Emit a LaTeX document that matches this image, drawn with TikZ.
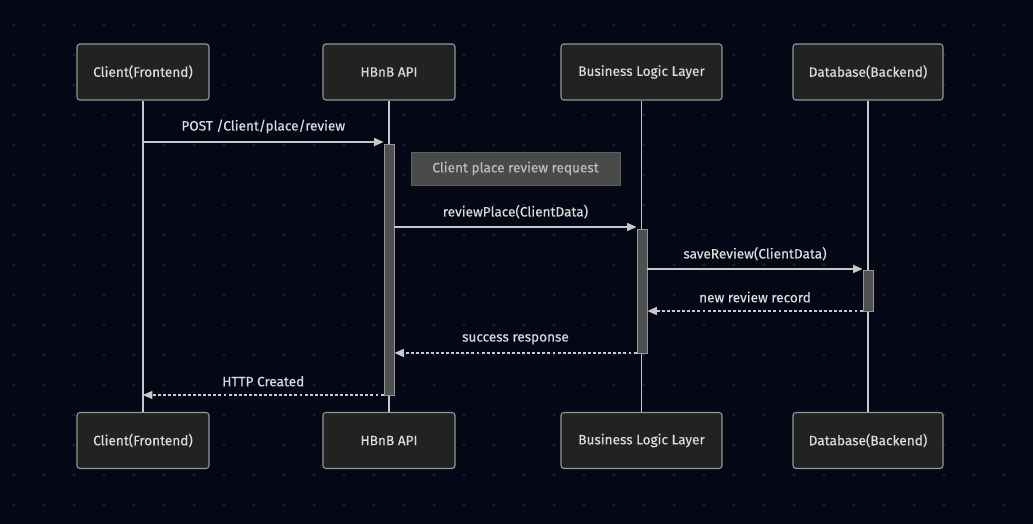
\documentclass[tikz,border=0pt]{standalone}
\usepackage{fontspec}
\setmainfont{Fira Sans}[UprightFeatures={FakeBold=0.25}]
\usetikzlibrary{arrows.meta}
\definecolor{bg}{RGB}{3,7,22}
\definecolor{griddot}{RGB}{30,34,46}
\definecolor{boxfill}{RGB}{34,35,33}
\definecolor{boxline}{RGB}{150,150,150}
\definecolor{txt}{RGB}{220,220,220}
\definecolor{wire}{RGB}{200,200,200}
\definecolor{actfill}{RGB}{80,80,80}
\definecolor{notefill}{RGB}{74,74,72}
\definecolor{noteline}{RGB}{95,95,95}
\definecolor{notetxt}{RGB}{190,190,190}
\tikzset{
  actor/.style={draw=boxline, fill=boxfill, rounded corners=2.2pt, line width=0.8pt,
    minimum height=42pt, text=txt, font=\fontsize{10.2}{12}\selectfont, inner sep=0pt},
  lifeline/.style={draw=wire, line width=0.8pt},
  activation/.style={draw=boxline, fill=actfill, line width=0.7pt, minimum width=7.5pt, inner sep=0pt},
  call/.style={draw=wire, line width=0.8pt, -{Triangle[length=7pt,width=6pt]}},
  reply/.style={call, dash pattern=on 2.2pt off 1.6pt},
  msglabel/.style={text=txt, font=\fontsize{10.2}{12}\selectfont, inner sep=0pt},
}
\begin{document}
\begin{tikzpicture}[x=0.75pt, y=-0.75pt]
  \fill[bg] (0,0) rectangle (1033,524);
  \useasboundingbox (0,0) rectangle (1033,524);
  % dotted background grid
  \foreach \gx in {14,44,...,1033}
    \foreach \gy in {25,55,...,524}
      \fill[griddot] (\gx,\gy) circle (1.6);

  % participants, top row
  \node[actor, minimum width=99pt]     (clT)  at (143,72)   {Client(Frontend)};
  \node[actor, minimum width=99pt]     (apiT) at (389,72)   {HBnB API};
  \node[actor, minimum width=120.75pt] (blT)  at (641.5,72) {Business Logic Layer};
  \node[actor, minimum width=112.5pt]  (dbT)  at (868,72)   {Database(Backend)};
  % participants, bottom row
  \node[actor, minimum width=99pt]     (clB)  at (143,440.5)   {Client(Frontend)};
  \node[actor, minimum width=99pt]     (apiB) at (389,440.5)   {HBnB API};
  \node[actor, minimum width=120.75pt] (blB)  at (641.5,440.5) {Business Logic Layer};
  \node[actor, minimum width=112.5pt]  (dbB)  at (868,440.5)   {Database(Backend)};

  % lifelines
  \draw[lifeline] (clT.south)  -- (clB.north);
  \draw[lifeline] (apiT.south) -- (apiB.north);
  \draw[lifeline] (blT.south)  -- (blB.north);
  \draw[lifeline] (dbT.south)  -- (dbB.north);

  % activation bars
  \node[activation, minimum height=188.25pt] (apiAct) at (389,269.5) {};
  \node[activation, minimum height=93pt]     (blAct)  at (642,291)   {};
  \node[activation, minimum height=30.75pt]  (dbAct)  at (868,290.5) {};

  % note
  \node[draw=noteline, fill=notefill, line width=0.7pt, minimum width=156.75pt, minimum height=24.75pt,
        text=notetxt, font=\fontsize{10.2}{12}\selectfont, inner sep=0pt] (note) at (515.5,168.5)
        {Client place review request};

  % messages
  \draw[call]  (clT.south |- 0,142) -- (apiAct.west |- 0,142)
    node[msglabel, midway, above=6pt] {POST /Client/place/review};
  \draw[call]  (apiAct.east |- 0,227) -- (blAct.west |- 0,227)
    node[msglabel, midway, above=6pt] {reviewPlace(ClientData)};
  \draw[call]  (blAct.east |- 0,269) -- (dbAct.west |- 0,269)
    node[msglabel, midway, above=6pt] {saveReview(ClientData)};
  \draw[reply] (dbAct.west |- 0,311) -- (blAct.east |- 0,311)
    node[msglabel, midway, above=6pt] {new review record};
  \draw[reply] (blAct.west |- 0,353) -- (apiAct.east |- 0,353)
    node[msglabel, midway, above=6pt] {success response};
  \draw[reply] (apiAct.west |- 0,395) -- (clT.south |- 0,395)
    node[msglabel, midway, above=6pt] {HTTP Created};
\end{tikzpicture}
\end{document}
